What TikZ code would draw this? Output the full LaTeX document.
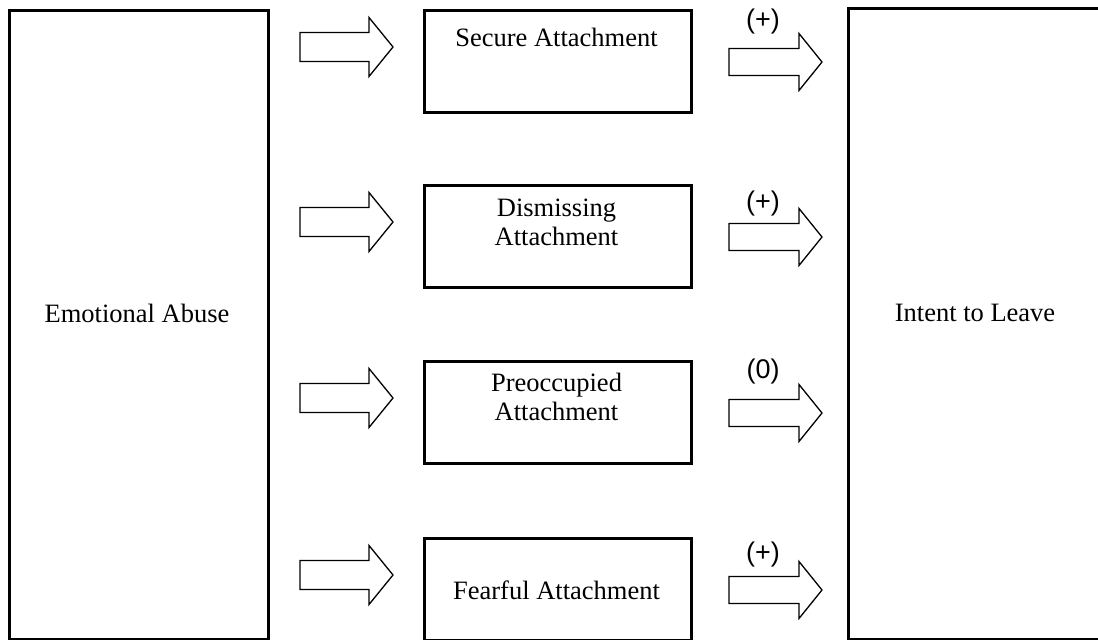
\documentclass[tikz,border=0pt]{standalone}
\usepackage{fontspec}
\setmainfont{Liberation Serif}
\newfontfamily\signfont{Liberation Sans}
\usetikzlibrary{positioning}

\begin{document}
\begin{tikzpicture}[x=0.5pt,y=-0.5pt,
  box/.style={draw,line width=1.5pt,anchor=north west,inner sep=0pt},
  boxtext/.style={font=\fontsize{13.25}{14.5}\selectfont,align=center},
  sign/.style={font=\signfont\fontsize{13.5}{15}\selectfont},
  blockarrow/.style={draw,line width=0.65pt,line join=miter}]
\useasboundingbox (0,0) rectangle (1098,640);
%\draw[] (0,0) grid (1098,640);
\node[box,minimum width=129.5pt,minimum height=314.5pt] (abuse) at (8,9) {};
\node[box,minimum width=131.5pt,minimum height=315.5pt] (leave) at (847,7) {};
\node[boxtext] (abusetext) at (137,313) {Emotional Abuse};
\node[boxtext] (leavetext) at (975,313) {Intent to Leave};
\foreach \t/\name/\txt/\dy/\sgn/\sy in {9/secure/{Secure Attachment}/28/{(+)}/13,
    184/dismissing/{Dismissing\\Attachment}/38/{(+)}/20,
    360/preoccupied/{Preoccupied\\Attachment}/37/{(0)}/12,
    537/fearful/{Fearful Attachment}/53/{(+)}/18}{
  \node[box,minimum width=133.5pt,minimum height=51pt] (\name) at (423,\t) {};
  \node[boxtext] (\name text) at (556.5,{\t+\dy}) {\txt};
  % arrow into the box
  \coordinate (\name in) at (393,{\t+38});
  \draw[blockarrow] (300,{\t+23.5}) -- (369,{\t+23.5}) -- (369,{\t+8.5})
    -- (\name in) -- (369,{\t+67.5}) -- (369,{\t+52.5}) -- (300,{\t+52.5}) -- cycle;
  % arrow out of the box
  \coordinate (\name out) at (822,{\t+53});
  \draw[blockarrow] (729,{\t+39.5}) -- (799,{\t+39.5}) -- (799,{\t+24.5})
    -- (\name out) -- (799,{\t+81.5}) -- (799,{\t+66.5}) -- (729,{\t+66.5}) -- cycle;
  \node[sign] (\name sign) at (763,{\t+\sy}) {\sgn};
}
\end{tikzpicture}
\end{document}
